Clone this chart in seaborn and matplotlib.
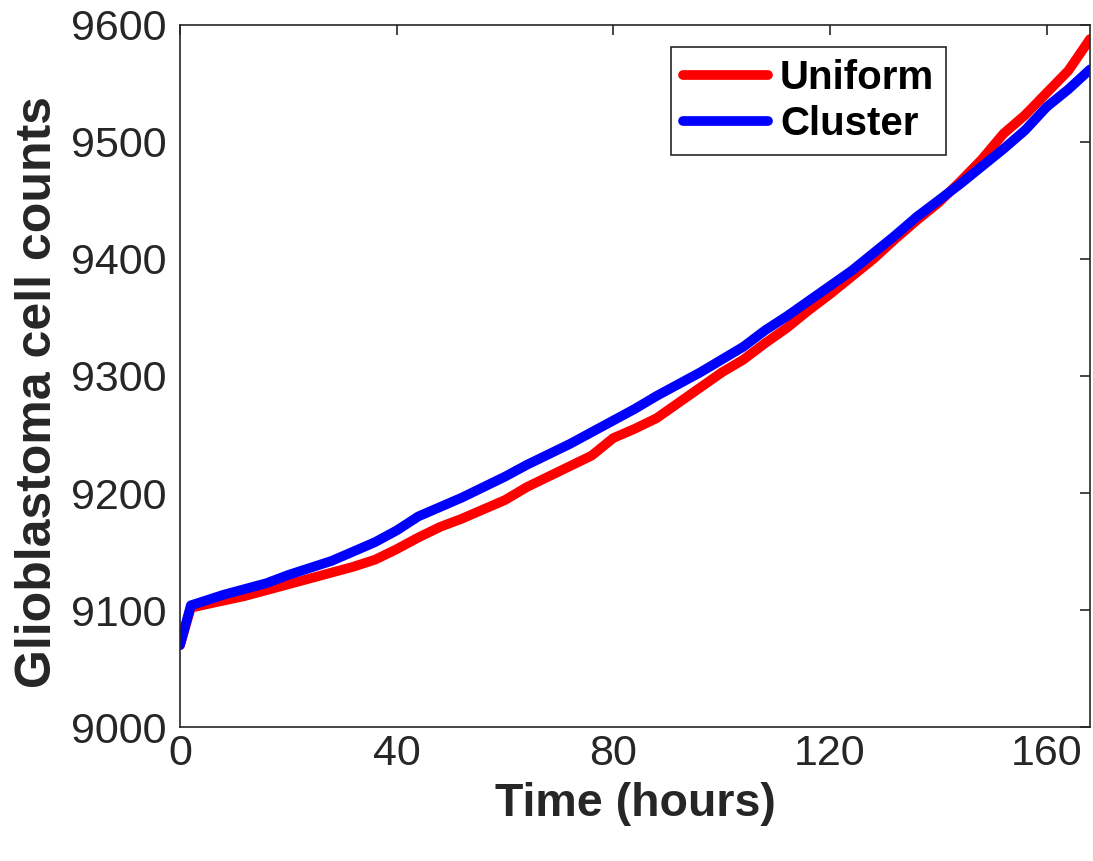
import numpy as np
import pandas as pd
import matplotlib
matplotlib.use('Agg')
import matplotlib.pyplot as plt
import seaborn as sns

# time points (hours)
hours = [0, 2, 4, 8, 12, 16, 20, 24, 28, 32, 36, 40, 44, 48, 52, 56, 60, 64, 68, 72,
         76, 80, 84, 88, 92, 96, 100, 104, 108, 112, 116, 120, 124, 128, 132, 136,
         140, 144, 148, 152, 156, 160, 164, 168]

uniform_counts = [9070, 9102, 9104, 9108, 9112, 9117, 9122, 9127, 9132, 9137, 9143,
                  9152, 9162, 9171, 9178, 9186, 9194, 9205, 9214, 9223, 9232, 9247,
                  9255, 9264, 9277, 9290, 9303, 9314, 9328, 9341, 9356, 9370, 9385,
                  9400, 9417, 9433, 9448, 9466, 9485, 9507, 9523, 9542, 9561, 9588]

cluster_counts = [9070, 9104, 9107, 9113, 9118, 9123, 9130, 9136, 9142, 9150, 9158,
                  9168, 9180, 9188, 9196, 9205, 9214, 9224, 9233, 9242, 9252, 9262,
                  9272, 9283, 9293, 9303, 9314, 9325, 9339, 9351, 9364, 9377, 9390,
                  9405, 9420, 9436, 9450, 9464, 9479, 9494, 9510, 9530, 9545, 9562]

series_names = ['Uniform', 'Cluster']
series_colors = ['#ff0000', '#0000ff']

x_ticks = [0, 40, 80, 120, 160]
y_ticks = [9000, 9100, 9200, 9300, 9400, 9500, 9600]

df = pd.concat([
    pd.DataFrame({'Time': hours, 'Count': uniform_counts, 'Layout': 'Uniform'}),
    pd.DataFrame({'Time': hours, 'Count': cluster_counts, 'Layout': 'Cluster'}),
])

sns.set_style('white')
plt.rcParams['font.family'] = ['Liberation Sans', 'DejaVu Sans']

fig = plt.figure(figsize=(10.93, 8.61), dpi=100)
ax = fig.add_axes([0.1647, 0.1556, 0.8326, 0.8154])

sns.lineplot(data=df, x='Time', y='Count', hue='Layout', hue_order=series_names,
             palette=series_colors, linewidth=7, ax=ax, legend=True)

ax.set_xlim(0, 168)
ax.set_ylim(9000, 9600)
ax.set_xticks(x_ticks)
ax.set_yticks(y_ticks)
ax.tick_params(direction='in', length=7, width=1.2, colors='#262626',
               labelsize=31, top=True, right=True)
ax.tick_params(axis='y', pad=10)
ax.tick_params(axis='x', pad=5)
for s in ax.spines.values():
    s.set_color('#262626')
    s.set_linewidth(1.2)

ax.set_xlabel('Time (hours)', fontsize=33.5, fontweight='bold', labelpad=6)
ax.set_ylabel('Glioblastoma cell counts', fontsize=36, fontweight='bold', labelpad=7)
ax.yaxis.label.set_y(0.477)

leg = ax.legend(loc='upper right', bbox_to_anchor=(0.842, 0.969), borderaxespad=0,
                fontsize=29, handlelength=2.1, handletextpad=0.3, borderpad=0.3,
                labelspacing=0.2, fancybox=False, framealpha=1, edgecolor='#262626')
leg.get_frame().set_linewidth(1.2)
for t in leg.get_texts():
    t.set_fontweight('bold')
    t.set_color('black')
for h in leg.get_lines():
    h.set_linewidth(7)

plt.savefig('out.png', dpi=100)
